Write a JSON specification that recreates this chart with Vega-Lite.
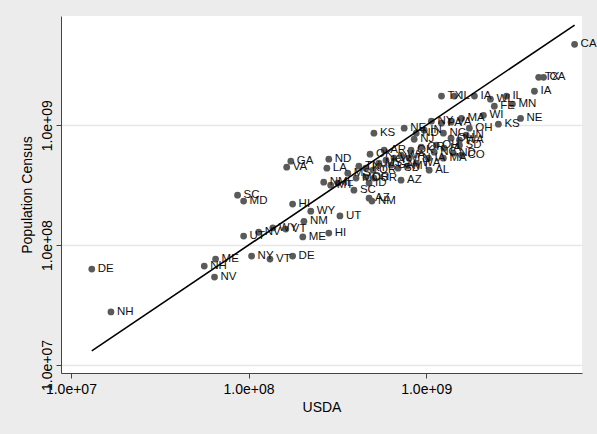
{
  "$schema": "https://vega.github.io/schema/vega-lite/v6.json",
  "width": 521,
  "height": 357,
  "autosize": "none",
  "padding": {"left": 61, "top": 16, "right": 15, "bottom": 61},
  "background": "#ececec",
  "config": {
    "view": {"fill": "white", "stroke": null},
    "font": "Liberation Sans",
    "axis": {"labelFont": "Liberation Sans", "titleFont": "Liberation Sans", "labelFontSize": 14, "titleFontSize": 14, "titleFontWeight": "normal", "labelColor": "#000", "titleColor": "#000", "domainColor": "#444", "tickColor": "#444", "tickSize": 5, "domainWidth": 1, "tickWidth": 1}
  },
  "datasets": {
    "pts": [
      {"state": "CA", "usda": 6.85e9, "census": 4.73e9},
      {"state": "TX", "usda": 4.30e9, "census": 2.51e9},
      {"state": "CA", "usda": 4.58e9, "census": 2.51e9},
      {"state": "IA", "usda": 4.07e9, "census": 1.92e9},
      {"state": "TX", "usda": 1.22e9, "census": 1.75e9},
      {"state": "IL", "usda": 1.44e9, "census": 1.75e9},
      {"state": "IA", "usda": 1.87e9, "census": 1.75e9},
      {"state": "WI", "usda": 2.30e9, "census": 1.65e9},
      {"state": "IL", "usda": 2.83e9, "census": 1.75e9},
      {"state": "FE", "usda": 2.42e9, "census": 1.44e9},
      {"state": "MN", "usda": 3.06e9, "census": 1.50e9},
      {"state": "NE", "usda": 3.40e9, "census": 1.14e9},
      {"state": "WI", "usda": 2.10e9, "census": 1.21e9},
      {"state": "KS", "usda": 2.55e9, "census": 1.02e9},
      {"state": "OH", "usda": 1.75e9, "census": 9.44e8},
      {"state": "NY", "usda": 1.07e9, "census": 1.08e9},
      {"state": "PA", "usda": 1.22e9, "census": 1.04e9},
      {"state": "VA", "usda": 1.38e9, "census": 1.06e9},
      {"state": "MA", "usda": 1.58e9, "census": 1.14e9},
      {"state": "KS", "usda": 5.08e8, "census": 8.58e8},
      {"state": "NE", "usda": 7.52e8, "census": 9.44e8},
      {"state": "ND", "usda": 8.79e8, "census": 8.58e8},
      {"state": "IN", "usda": 9.75e8, "census": 9.09e8},
      {"state": "NC", "usda": 1.25e9, "census": 8.58e8},
      {"state": "OH", "usda": 1.38e9, "census": 7.80e8},
      {"state": "WA", "usda": 1.54e9, "census": 7.50e8},
      {"state": "IN", "usda": 1.68e9, "census": 8.25e8},
      {"state": "NJ", "usda": 8.56e8, "census": 7.64e8},
      {"state": "OH", "usda": 1.14e9, "census": 6.81e8},
      {"state": "IA", "usda": 1.26e9, "census": 6.43e8},
      {"state": "NC", "usda": 1.11e9, "census": 5.96e8},
      {"state": "OR", "usda": 9.38e8, "census": 6.56e8},
      {"state": "OK", "usda": 8.22e8, "census": 6.19e8},
      {"state": "TN", "usda": 8.02e8, "census": 5.31e8},
      {"state": "IA", "usda": 1.03e9, "census": 5.31e8},
      {"state": "SD", "usda": 1.54e9, "census": 6.81e8},
      {"state": "ND", "usda": 1.42e9, "census": 5.84e8},
      {"state": "MA", "usda": 1.25e9, "census": 5.31e8},
      {"state": "CO", "usda": 1.58e9, "census": 5.62e8},
      {"state": "WA", "usda": 7.22e8, "census": 5.62e8},
      {"state": "AR", "usda": 5.80e8, "census": 6.19e8},
      {"state": "GA", "usda": 6.34e8, "census": 4.64e8},
      {"state": "WA", "usda": 8.79e8, "census": 4.82e8},
      {"state": "OK", "usda": 4.83e8, "census": 5.73e8},
      {"state": "AL", "usda": 1.04e9, "census": 4.22e8},
      {"state": "AZ", "usda": 7.22e8, "census": 3.48e8},
      {"state": "SD", "usda": 6.95e8, "census": 4.38e8},
      {"state": "MT", "usda": 7.81e8, "census": 4.55e8},
      {"state": "KY", "usda": 5.94e8, "census": 5.11e8},
      {"state": "WV", "usda": 6.59e8, "census": 5.31e8},
      {"state": "MS", "usda": 5.42e8, "census": 4.82e8},
      {"state": "TN", "usda": 4.18e8, "census": 4.55e8},
      {"state": "KY", "usda": 4.58e8, "census": 4.38e8},
      {"state": "OR", "usda": 5.02e8, "census": 4.22e8},
      {"state": "MS", "usda": 3.62e8, "census": 3.98e8},
      {"state": "MO", "usda": 4.03e8, "census": 3.62e8},
      {"state": "OR", "usda": 4.58e8, "census": 3.69e8},
      {"state": "OR", "usda": 5.08e8, "census": 3.62e8},
      {"state": "ID", "usda": 4.77e8, "census": 3.29e8},
      {"state": "NM", "usda": 2.65e8, "census": 3.35e8},
      {"state": "MT", "usda": 2.90e8, "census": 3.16e8},
      {"state": "IL", "usda": 3.18e8, "census": 3.29e8},
      {"state": "SC", "usda": 3.92e8, "census": 2.87e8},
      {"state": "AZ", "usda": 4.77e8, "census": 2.46e8},
      {"state": "NM", "usda": 4.95e8, "census": 2.33e8},
      {"state": "GA", "usda": 1.73e8, "census": 5.01e8},
      {"state": "VA", "usda": 1.64e8, "census": 4.47e8},
      {"state": "ND", "usda": 2.83e8, "census": 5.21e8},
      {"state": "LA", "usda": 2.76e8, "census": 4.38e8},
      {"state": "SC", "usda": 8.67e7, "census": 2.61e8},
      {"state": "MD", "usda": 9.38e7, "census": 2.33e8},
      {"state": "HI", "usda": 1.77e8, "census": 2.20e8},
      {"state": "WY", "usda": 2.24e8, "census": 1.92e8},
      {"state": "UT", "usda": 3.27e8, "census": 1.75e8},
      {"state": "NM", "usda": 2.05e8, "census": 1.58e8},
      {"state": "ME", "usda": 2.02e8, "census": 1.17e8},
      {"state": "HI", "usda": 2.83e8, "census": 1.26e8},
      {"state": "UT", "usda": 9.38e7, "census": 1.19e8},
      {"state": "NV", "usda": 1.14e8, "census": 1.28e8},
      {"state": "WY", "usda": 1.37e8, "census": 1.39e8},
      {"state": "VT", "usda": 1.62e8, "census": 1.36e8},
      {"state": "DE", "usda": 1.31e7, "census": 6.31e7},
      {"state": "NH", "usda": 1.68e7, "census": 2.77e7},
      {"state": "NH", "usda": 5.63e7, "census": 6.68e7},
      {"state": "ME", "usda": 6.52e7, "census": 7.64e7},
      {"state": "NV", "usda": 6.43e7, "census": 5.41e7},
      {"state": "NY", "usda": 1.04e8, "census": 8.10e7},
      {"state": "VT", "usda": 1.32e8, "census": 7.64e7},
      {"state": "DE", "usda": 1.77e8, "census": 8.10e7}
    ],
    "fit": [
      {"usda": 1.31e7, "census": 1.31e7},
      {"usda": 6.85e9, "census": 6.85e9}
    ]
  },
  "layer": [
    {
      "data": {"name": "pts"},
      "mark": {"type": "point", "filled": true, "shape": "circle", "size": 46, "color": "#5a5a5a", "opacity": 1},
      "encoding": {
        "x": {"field": "usda", "type": "quantitative", "title": "USDA",
          "scale": {"type": "log", "domain": [8.79e6, 7.54e9], "nice": false, "zero": false},
          "axis": {"values": [1e7, 1e8, 1e9], "labelExpr": "replace(format(datum.value, '.1e'), 'e+', 'e+0')", "grid": false, "labelPadding": 4, "titlePadding": 4, "labelFlush": false, "labelOverlap": false}},
        "y": {"field": "census", "type": "quantitative", "title": "Population Census",
          "scale": {"type": "log", "domain": [8.57e6, 8.15e9], "nice": false, "zero": false},
          "axis": {"values": [1e7, 1e8, 1e9], "labelExpr": "replace(format(datum.value, '.1e'), 'e+', 'e+0')", "grid": true, "gridColor": "#e6e6e6", "gridWidth": 1.5, "labelAngle": 270, "labelAlign": "center", "labelBaseline": "alphabetic", "labelPadding": 5, "titlePadding": 6, "labelFlush": false, "labelOverlap": false}}
      }
    },
    {
      "data": {"name": "pts"},
      "mark": {"type": "text", "align": "left", "baseline": "middle", "dx": 6, "fontSize": 11.5, "font": "Liberation Sans", "color": "#111"},
      "encoding": {
        "x": {"field": "usda", "type": "quantitative"},
        "y": {"field": "census", "type": "quantitative"},
        "text": {"field": "state"}
      }
    },
    {
      "data": {"name": "fit"},
      "mark": {"type": "line", "color": "#000", "strokeWidth": 1.6},
      "encoding": {
        "x": {"field": "usda", "type": "quantitative"},
        "y": {"field": "census", "type": "quantitative"}
      }
    }
  ]
}
